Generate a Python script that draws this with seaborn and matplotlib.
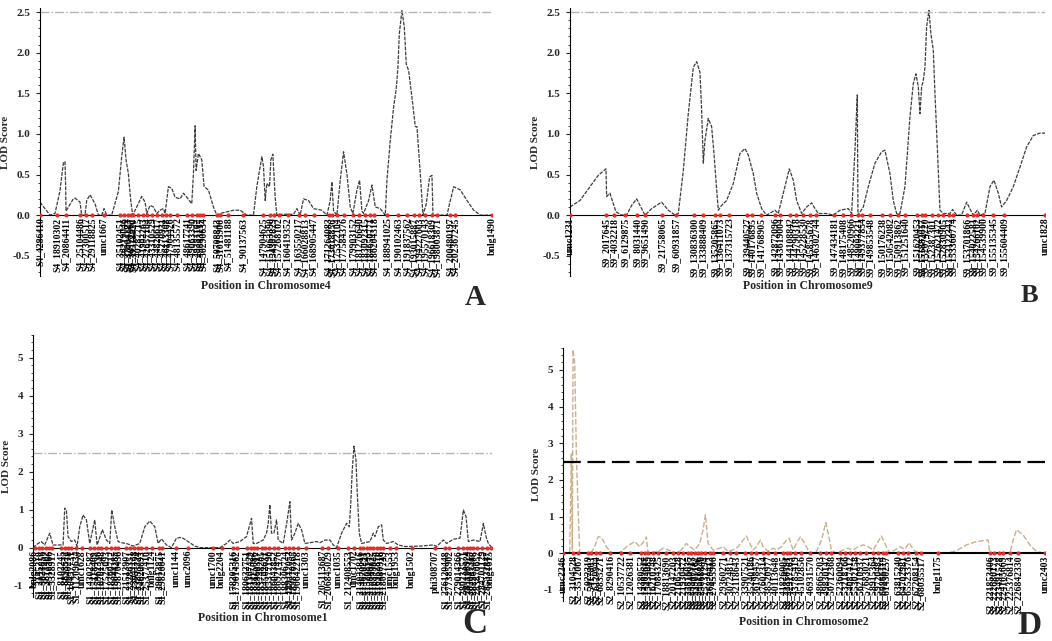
import matplotlib
matplotlib.use("Agg")
import matplotlib.pyplot as plt
from matplotlib.ticker import MultipleLocator, FormatStrFormatter
import seaborn as sns

# ---- panel A : chromosome 4 ----
a_pos = [0, 30, 45, 60, 70, 75, 77, 78, 100, 105, 120, 125, 135, 140, 150, 165, 175, 185, 192, 200,
         215, 235, 245, 252, 258, 265, 272, 278, 290, 305, 315, 320, 330, 340, 350, 360, 370, 375, 385, 395,
         405, 420, 430, 440, 455, 460, 465, 468, 475, 485, 492, 505, 520, 530, 540, 560, 580, 600, 620, 640,
         650, 665, 670, 675, 680, 688, 692, 698, 705, 710, 720, 760, 770, 780, 790, 805, 820, 845, 860, 870,
         875, 880, 890, 900, 910, 920, 930, 938, 950, 958, 965, 970, 985, 995, 1005, 1020, 1035, 1040, 1050, 1060,
         1068, 1073, 1077, 1085, 1092, 1098, 1105, 1115, 1125, 1130, 1140, 1148, 1158, 1168, 1175, 1178, 1190, 1220, 1230, 1240,
         1260, 1280, 1300, 1320, 1355]
a_lod = [0.16, 0.0, 0.02, 0.3, 0.64, 0.66, 0.35, 0.05, 0.2, 0.21, 0.16, 0.0, 0.0, 0.18, 0.25, 0.14, 0.0, 0.0, 0.08, 0.0,
         0.0, 0.29, 0.72, 0.96, 0.68, 0.51, 0.18, 0.0, 0.1, 0.23, 0.16, 0.02, 0.12, 0.1, 0.02, 0.06, 0.08, 0.02, 0.35, 0.33,
         0.22, 0.2, 0.27, 0.22, 0.14, 0.51, 1.1, 0.55, 0.76, 0.68, 0.35, 0.31, 0.1, 0.0, 0.02, 0.04, 0.06, 0.06, 0.0, 0.0,
         0.35, 0.72, 0.6, 0.18, 0.39, 0.35, 0.68, 0.75, 0.22, 0.0, 0.01, 0.01, 0.08, 0.0, 0.2, 0.18, 0.08, 0.06, 0.0, 0.18,
         0.41, 0.05, 0.0, 0.43, 0.78, 0.51, 0.1, 0.02, 0.31, 0.43, 0.05, 0.02, 0.18, 0.37, 0.1, 0.08, 0.0, 0.43, 0.92, 1.33,
         1.56, 1.82, 2.23, 2.52, 2.32, 1.86, 1.78, 1.45, 1.09, 1.09, 0.51, 0.0, 0.14, 0.47, 0.49, 0.0, 0.0, 0.0, 0.18, 0.35,
         0.31, 0.18, 0.06, 0.0, 0.0]
a_mk_pos = [0, 52, 77, 120, 138, 155, 192, 240, 252, 265, 273, 280, 295, 310, 320, 335, 350, 365, 377, 390,
            410, 440, 455, 470, 480, 490, 530, 540, 565, 610, 670, 690, 700, 715, 742, 775, 795, 820, 865, 875,
            890, 910, 938, 957, 975, 990, 1002, 1040, 1073, 1100, 1120, 1136, 1155, 1175, 1190, 1228, 1245, 1355]
a_mk_lab = ("S4_4286410 S4_18910302 S4_20864411 S4_25104486 S4_27300517 S4_29118825 umc1667 S4_35102451 "
            "S4_36219046 S4_37004183 S4_38122967 S4_39518820 S4_40287715 S4_41902263 S4_42657104 S4_43310529 "
            "S4_44826617 S4_45270931 S4_46113308 S4_47904426 S4_48135572 S4_48617741 S4_49063390 S4_49381102 "
            "S4_49843117 S4_50290634 S4_50708843 S4_51015906 S4_51481188 S4_90137563 S4_147904625 S4_151063390 "
            "S4_154307829 S4_157268102 S4_160419352 S4_163550217 S4_166028813 S4_168905447 S4_171264083 "
            "S4_173018856 S4_175322104 S4_177584376 S4_179903152 S4_181276640 S4_183092315 S4_184650771 "
            "S4_186204318 S4_188941025 S4_190102463 S4_191837562 S4_193015887 S4_194227603 S4_195570143 "
            "S4_196618309 S4_198003871 S4_200480197 S4_202367245 bnlg1490").split()

# ---- panel B : chromosome 9 ----
b_pos = [0, 30, 60, 85, 108, 110, 120, 130, 138, 155, 170, 185, 200, 215, 225, 245, 275, 295, 315, 325,
         340, 355, 370, 380, 390, 395, 400, 405, 415, 425, 432, 438, 445, 455, 470, 490, 510, 525, 535, 550,
         560, 575, 590, 615, 625, 640, 658, 670, 680, 695, 710, 725, 735, 745, 770, 790, 810, 835, 845, 855,
         862, 864, 880, 895, 915, 935, 945, 960, 970, 980, 990, 1005, 1020, 1030, 1038, 1045, 1050, 1055, 1060, 1065,
         1070, 1077, 1083, 1090, 1095, 1102, 1110, 1120, 1140, 1148, 1160, 1175, 1190, 1202, 1210, 1222, 1230, 1245, 1260, 1272,
         1285, 1295, 1310, 1330, 1350, 1370, 1390, 1410, 1425]
b_lod = [0.1, 0.18, 0.35, 0.49, 0.57, 0.23, 0.27, 0.14, 0.04, 0.0, 0.0, 0.12, 0.2, 0.08, 0.0, 0.08, 0.16, 0.06, 0.0, 0.02,
         0.55, 1.25, 1.82, 1.89, 1.76, 1.29, 0.64, 0.92, 1.19, 1.09, 0.76, 0.43, 0.06, 0.12, 0.18, 0.39, 0.76, 0.82, 0.74, 0.51,
         0.27, 0.08, 0.0, 0.06, 0.02, 0.27, 0.57, 0.43, 0.18, 0.02, 0.1, 0.15, 0.08, 0.02, 0.02, 0.0, 0.06, 0.08, 0.02, 0.8,
         1.48, 0.0, 0.1, 0.35, 0.64, 0.78, 0.8, 0.51, 0.18, 0.02, 0.02, 0.35, 1.21, 1.62, 1.74, 1.58, 1.25, 1.58, 1.66, 1.82,
         2.32, 2.52, 2.23, 2.03, 1.5, 0.84, 0.06, 0.02, 0.02, 0.07, 0.0, 0.0, 0.16, 0.06, 0.0, 0.06, 0.0, 0.02, 0.35, 0.43,
         0.27, 0.1, 0.18, 0.35, 0.59, 0.84, 0.98, 1.01, 1.01]
b_mk_pos = [0, 108, 133, 165, 200, 225, 277, 318, 372, 400, 435, 450, 477, 532, 545, 573, 615, 630, 660, 677,
            700, 720, 737, 792, 820, 843, 865, 875, 900, 937, 960, 983, 1005, 1040, 1055, 1065, 1085, 1105, 1120, 1138,
            1150, 1192, 1210, 1222, 1240, 1268, 1302, 1425]
b_mk_lab = ("umc1231 S9_2017645 S9_4032218 S9_6129875 S9_8031440 S9_9651490 S9_21758065 S9_60931857 "
            "S9_130836300 S9_133888409 S9_135205865 S9_136411073 S9_137315723 S9_139440527 S9_140176895 "
            "S9_141768905 S9_142872096 S9_143619004 S9_144108842 S9_144790318 S9_145228530 S9_145855678 "
            "S9_146302744 S9_147434181 S9_148175408 S9_148520966 S9_149003221 S9_149377854 S9_149853548 "
            "S9_150176238 S9_150542082 S9_150913862 S9_151251640 S9_151620453 S9_151882017 S9_152074220 "
            "S9_152387301 S9_152621472 S9_152830905 S9_153122342 S9_153360774 S9_153701866 S9_154022581 "
            "S9_154266102 S9_154539900 S9_155135345 S9_155604409 umc1828").split()

# ---- panel C : chromosome 1 ----
c_pos = [0, 15, 25, 35, 50, 60, 75, 90, 95, 100, 105, 115, 125, 132, 140, 150, 160, 170, 185, 192,
         208, 220, 230, 236, 245, 255, 265, 280, 300, 320, 335, 350, 365, 375, 385, 400, 415, 430, 445, 465,
         485, 500, 560, 580, 590, 600, 620, 640, 655, 660, 670, 690, 700, 705, 710, 715, 722, 730, 735, 750,
         762, 770, 775, 785, 795, 805, 815, 830, 850, 860, 875, 890, 900, 910, 925, 940, 948, 952, 957, 962,
         968, 972, 978, 985, 995, 1010, 1020, 1025, 1035, 1045, 1050, 1060, 1080, 1095, 1115, 1160, 1200, 1210, 1230, 1240,
         1260, 1280, 1290, 1298, 1305, 1320, 1340, 1350, 1358, 1365, 1375]
c_lod = [0.0, 0.11, 0.16, 0.07, 0.38, 0.07, 0.07, 0.07, 1.04, 0.99, 0.29, 0.16, 0.2, 0.03, 0.55, 0.86, 0.73, 0.11, 0.73, 0.07,
         0.47, 0.2, 0.11, 0.99, 0.55, 0.16, 0.13, 0.11, 0.04, 0.11, 0.55, 0.7, 0.55, 0.11, 0.23, 0.07, 0.0, 0.25, 0.27, 0.16,
         0.04, 0.0, 0.0, 0.11, 0.2, 0.11, 0.16, 0.29, 0.77, 0.11, 0.11, 0.2, 0.38, 0.64, 1.13, 0.38, 0.38, 0.73, 0.2, 0.11,
         0.73, 1.21, 0.2, 0.38, 0.64, 0.47, 0.11, 0.13, 0.16, 0.13, 0.2, 0.2, 0.07, 0.0, 0.38, 0.64, 0.55, 1.08, 2.05, 2.67,
         2.32, 1.43, 0.38, 0.11, 0.13, 0.16, 0.38, 0.29, 0.55, 0.6, 0.2, 0.11, 0.16, 0.07, 0.03, 0.04, 0.07, 0.03, 0.2, 0.11,
         0.22, 0.25, 0.99, 0.82, 0.16, 0.2, 0.16, 0.64, 0.29, 0.11, 0.0]
c_mk_pos = [5, 18, 28, 38, 48, 58, 85, 95, 105, 115, 128, 148, 170, 182, 195, 205, 220, 235, 245, 255,
            280, 292, 302, 314, 325, 338, 358, 378, 388, 430, 465, 540, 565, 600, 610, 640, 652, 662, 672, 685,
            695, 708, 722, 735, 755, 768, 780, 793, 818, 865, 885, 915, 945, 962, 980, 990, 1000, 1010, 1020, 1030,
            1040, 1050, 1070, 1088, 1135, 1205, 1235, 1248, 1275, 1290, 1300, 1310, 1320, 1332, 1345, 1360, 1372]
c_mk_lab = ("bnlg2086 S1_2145210 S1_3021856 S1_3877402 S1_4510366 S1_5328917 S1_8102245 S1_8893512 "
            "S1_9640278 S1_10457731 S1_11209634 umc1628 S1_14302587 S1_15118409 S1_15962330 S1_16701548 "
            "S1_17525093 S1_18360712 S1_19044285 S1_19870436 S1_21513907 S1_22286351 S1_23041168 S1_23895724 "
            "S1_24620093 S1_25377410 bnlg1124 S1_29013875 S1_29826641 umc1144 umc2096 umc1700 bnlg2204 "
            "S1_178205316 S1_179014562 S1_180632751 S1_181307429 S1_182115086 S1_182960317 S1_183748205 "
            "S1_184502631 S1_185377190 S1_186043852 S1_186921476 S1_188306724 S1_189112053 S1_189870365 "
            "S1_190642218 umc1303 S1_205113687 S1_206845029 umc1035 S1_212408553 umc1702 S1_214033816 "
            "S1_214670291 S1_215208543 S1_215846172 S1_216399025 S1_216952870 S1_217480316 S1_218017749 "
            "umc1553 bnlg1953 bnlg1502 phi308707 S1_276120448 S1_277385902 S1_279014366 S1_280233571 "
            "S1_281108924 S1_282047315 S1_282963408 S1_283870652 S1_284701129 S1_285532847 bnlg1615").split()

# ---- panel D : chromosome 2 ----
d_pos = [0, 20, 25, 28, 30, 35, 40, 45, 50, 70, 85, 95, 105, 115, 130, 145, 160, 175, 190, 215,
         230, 245, 250, 255, 285, 300, 315, 340, 355, 370, 380, 395, 410, 420, 427, 435, 450, 470, 480, 495,
         510, 525, 540, 550, 560, 570, 580, 592, 600, 615, 630, 640, 655, 670, 678, 690, 700, 712, 725, 740,
         760, 775, 788, 795, 805, 820, 840, 855, 870, 885, 900, 915, 930, 945, 955, 965, 980, 995, 1010, 1025,
         1038, 1045, 1060, 1100, 1150, 1180, 1210, 1240, 1265, 1275, 1280, 1320, 1340, 1350, 1360, 1380, 1400, 1420, 1445]
d_lod = [0.0, 0.0, 2.73, 0.09, 5.55, 5.18, 2.73, 1.27, 0.0, 0.0, 0.02, 0.18, 0.45, 0.44, 0.18, 0.0, 0.0, 0.05, 0.18, 0.32,
         0.18, 0.36, 0.45, 0.0, 0.05, 0.14, 0.09, 0.0, 0.09, 0.27, 0.18, 0.09, 0.27, 0.64, 1.05, 0.27, 0.09, 0.14, 0.18, 0.05,
         0.09, 0.18, 0.36, 0.47, 0.27, 0.09, 0.18, 0.36, 0.18, 0.05, 0.14, 0.09, 0.18, 0.36, 0.41, 0.09, 0.27, 0.45, 0.27, 0.0,
         0.05, 0.36, 0.84, 0.55, 0.09, 0.0, 0.09, 0.14, 0.09, 0.18, 0.23, 0.18, 0.09, 0.32, 0.47, 0.27, 0.0, 0.09, 0.18, 0.11,
         0.29, 0.18, 0.0, 0.0, 0.0, 0.07, 0.23, 0.32, 0.35, 0.36, 0.0, 0.0, 0.0, 0.36, 0.64, 0.5, 0.23, 0.05, 0.0]
d_mk_pos = [0, 30, 45, 75, 85, 98, 110, 140, 175, 200, 235, 245, 255, 270, 285, 310, 330, 345, 360, 375,
            385, 395, 405, 415, 425, 440, 450, 480, 500, 520, 545, 565, 580, 600, 615, 635, 660, 672, 682, 695,
            715, 740, 770, 790, 805, 830, 845, 860, 875, 890, 910, 930, 945, 960, 970, 1005, 1020, 1035, 1060, 1075,
            1125, 1280, 1293, 1308, 1320, 1340, 1365, 1445]
d_mk_lab = ("umc2246 S2_3104528 S2_3512067 S2_5022319 S2_5417803 S2_6120944 S2_6835271 S2_8290416 "
            "S2_10537722 S2_12026381 S2_14380552 S2_14902617 S2_15433089 S2_16210748 S2_17084325 S2_18813690 "
            "S2_20147203 S2_21065528 S2_21930472 S2_22816035 S2_23340917 S2_23905182 S2_24511376 S2_25068840 "
            "S2_25731294 S2_26820413 S2_27455906 S2_29360271 S2_30724815 S2_32118643 S2_33907521 S2_35240186 "
            "S2_36198457 S2_37602314 S2_38520977 S2_40113648 S2_41826005 S2_42350791 S2_42917263 S2_43785419 "
            "S2_45102856 S2_46931570 S2_48665203 S2_49830147 S2_50712368 S2_52360094 S2_53218766 S2_54087412 "
            "S2_55302158 S2_56210937 S2_57683021 S2_58915364 S2_59720483 S2_60866119 S2_61430257 S2_63815240 "
            "S2_64702981 S2_65523376 S2_67208154 S2_68035517 bnlg1175 S2_221853406 S2_222680173 S2_223491528 "
            "S2_224105669 S2_225376814 S2_226842330 umc2403").split()

THRESHOLD = 2.5

sns.set_style("white")
plt.rcParams["font.family"] = ["Liberation Serif", "DejaVu Serif"]
plt.rcParams["font.weight"] = "bold"

fig = plt.figure(figsize=(10.52, 6.41), dpi=100)


def draw_panel(rect, pos, lod, mk_pos, mk_lab, chrom, ylim, major, minor, fmt,
               curve_kw, thr_kw, base_lw, lab_top, lab_size, xpad):
    ax = fig.add_axes(rect)
    sns.lineplot(x=pos, y=lod, ax=ax, **curve_kw)
    ax.axhline(0, color="black", lw=base_lw, zorder=3)
    ax.axhline(THRESHOLD, **thr_kw)
    sns.scatterplot(x=mk_pos, y=[0] * len(mk_pos), ax=ax, color="#e0302c",
                    s=9, linewidth=0, zorder=5)
    for x, lab in zip(mk_pos, mk_lab):
        ax.text(x, lab_top, lab, rotation=90, ha="center", va="top",
                fontsize=lab_size, fontweight="bold", color="black")
    ax.set_xlim(0, max(pos))
    ax.set_ylim(*ylim)
    ax.set_xticks([])
    ax.yaxis.set_major_locator(MultipleLocator(major))
    ax.yaxis.set_minor_locator(MultipleLocator(minor))
    ax.yaxis.set_major_formatter(FormatStrFormatter(fmt))
    ax.tick_params(axis="y", which="major", left=True, length=3, width=0.8,
                   labelsize=8, pad=4)
    ax.tick_params(axis="y", which="minor", left=True, length=1.5, width=0.6)
    for t in ax.get_yticklabels():
        t.set_fontweight("bold")
    for s in ["top", "right", "bottom"]:
        ax.spines[s].set_visible(False)
    ax.spines["left"].set_color("black")
    ax.spines["left"].set_linewidth(0.8)
    ax.set_ylabel("LOD Score", fontsize=8, fontweight="bold", labelpad=2)
    ax.set_xlabel("Position in Chromosome" + chrom, fontsize=8.5,
                  fontweight="bold", labelpad=xpad)
    return ax


gray_curve = dict(color="#3c3c3c", lw=0.9, linestyle=(0, (3, 1)))
gray_thr = dict(color="#b4b4b4", lw=1.0, linestyle="-.")

draw_panel([0.038, 0.5694, 0.4297, 0.418], a_pos, a_lod, a_mk_pos, a_mk_lab, "4",
           (-0.75, 2.55), 0.5, 0.1, "%.1f", gray_curve, gray_thr, 0.8, -0.03, 7.0, 3)
draw_panel([0.5418, 0.5694, 0.4515, 0.418], b_pos, b_lod, b_mk_pos, b_mk_lab, "9",
           (-0.75, 2.55), 0.5, 0.1, "%.1f", gray_curve, gray_thr, 0.8, -0.03, 7.0, 3)
draw_panel([0.0314, 0.0686, 0.436, 0.409], c_pos, c_lod, c_mk_pos, c_mk_lab, "1",
           (-1.3, 5.6), 1, 0.2, "%d", gray_curve, gray_thr, 0.8, -0.06, 7.0, 11)
draw_panel([0.5352, 0.0624, 0.458, 0.395], d_pos, d_lod, d_mk_pos, d_mk_lab, "2",
           (-1.3, 5.6), 1, 0.2, "%d",
           dict(color="#c9b08f", lw=1.0, linestyle=(0, (4, 1.5))),
           dict(color="black", lw=1.6, linestyle=(0, (8, 3))), 1.5, -0.06, 7.0, 11)

for letter, fx, fy, fs, va in [("A", 0.4515, 0.524, 21, "baseline"), ("B", 0.979, 0.529, 19, "baseline"),
                               ("C", 0.4515, 0.0, 25, "bottom"), ("D", 0.979, 0.0, 24, "bottom")]:
    fig.text(fx, fy, letter, fontsize=fs, fontweight="bold", ha="center", va=va)

fig.savefig("out.png", dpi=100)
